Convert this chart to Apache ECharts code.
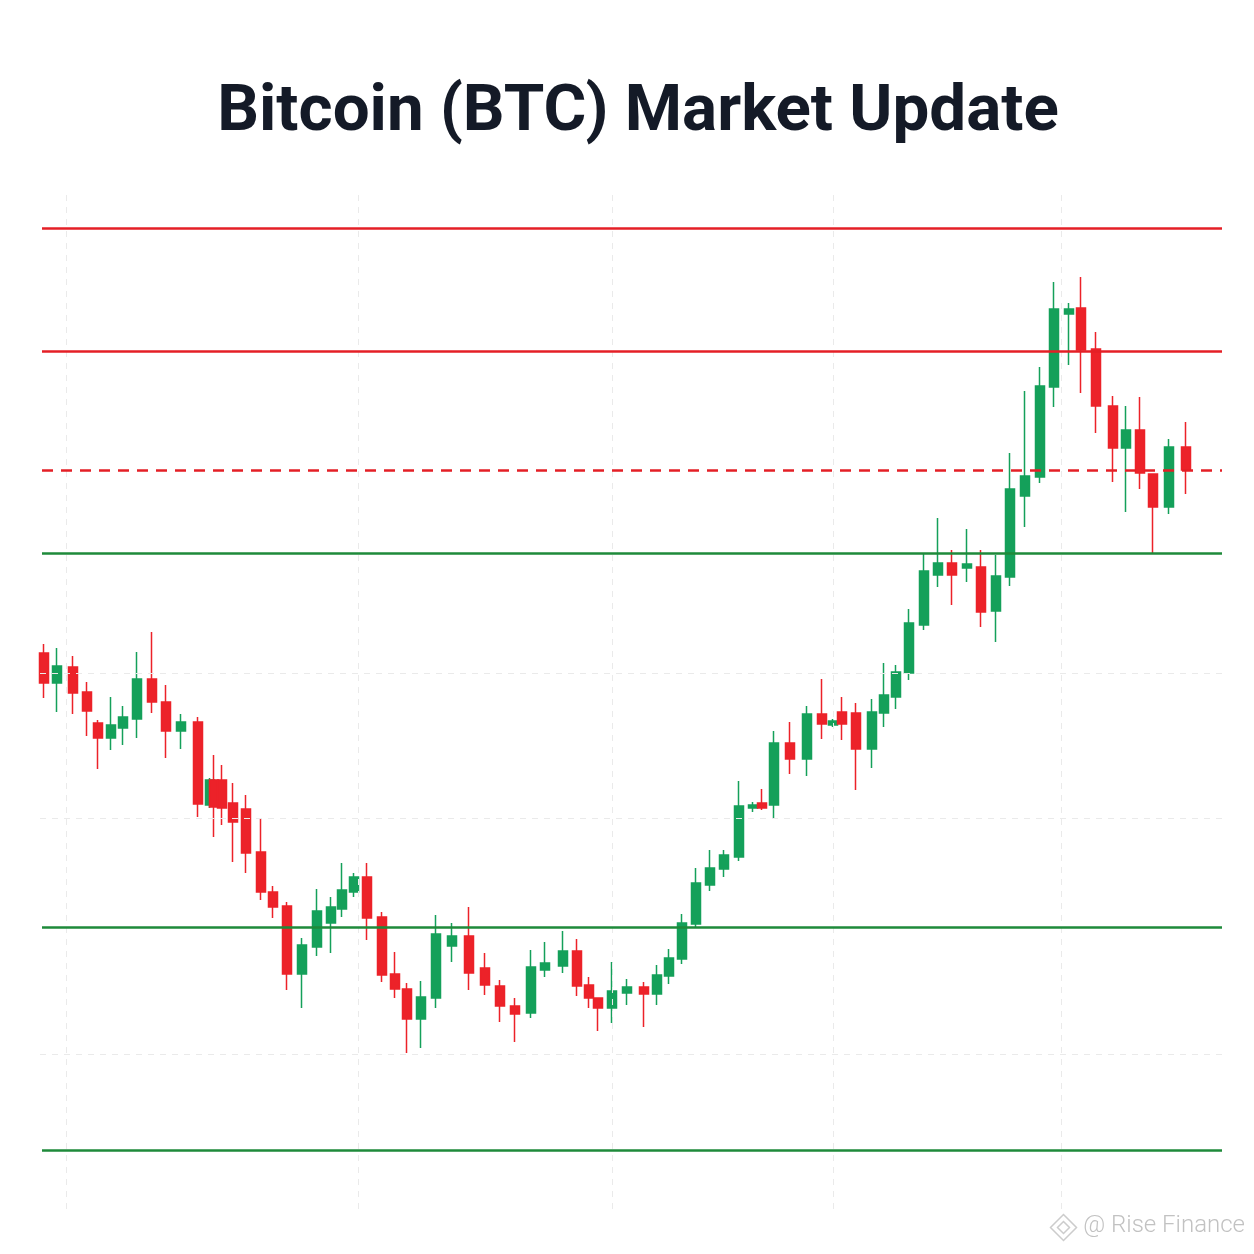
<!DOCTYPE html>
<html>
<head>
<meta charset="utf-8">
<script src="https://cdn.jsdelivr.net/npm/echarts@6/dist/echarts.min.js"></script>
<style>
html,body{margin:0;padding:0;background:#ffffff;}
#chart{width:1254px;height:1254px;}
</style>
</head>
<body>
<div id="chart"></div>
<script>
// Session positions (time axis units) for each candle
const sessionPos = [44,57,73,87,98,111,123,137,152,166,181,198,210,214,222,233,246,261,273,287,302,317,331,342,354,367,382,395,407,421,436,452,469,485,500,515,531,545,563,577,589,598,612,627,644,657,669,682,696,710,724,739,753,762,774,790,807,822,833,842,856,872,884,896,909,924,938,952,967,981,996,1010,1025,1040,1054,1069,1081,1096,1113,1126,1140,1153,1169,1186];
const openP = [60100,57100,58700,56200,53100,51600,52600,53500,57500,55200,52300,53200,44900,47400,47400,45100,44500,40200,36200,34800,28000,30700,33100,34500,36200,37700,33700,28000,26500,23500,25600,30800,31800,28600,26800,24800,24100,28400,28800,30300,26900,25600,24600,26100,26700,26000,27800,29500,33000,36900,38500,39700,44600,45100,44900,51100,49500,54000,52900,54200,54100,50500,54100,55700,58100,62900,67900,69100,68600,68700,64300,67700,75800,77700,86700,94000,94600,90500,84800,80600,82400,78000,74700,80700];
const closeP = [57100,58800,56100,54300,51600,52900,53700,57500,55200,52300,53200,45000,47400,44700,44600,43200,40100,36200,34700,28000,30900,34300,34700,36400,37700,33600,27900,26500,23500,25700,32000,31800,28100,26900,24800,24000,28700,29100,30300,26800,25600,24600,26300,26700,26000,27900,29600,33100,37100,38600,39900,44800,44900,44600,51100,49500,54000,53000,53300,53000,50500,54200,55900,58200,63100,68300,69100,67900,69000,64200,67800,76500,77800,86800,94500,94500,90400,84800,80600,82400,78100,74700,80700,78400];
const lowP = [55600,54200,54000,51800,48500,50400,50900,51600,54100,49600,50500,43700,44600,41700,42900,39200,38100,35400,33600,26400,24600,29800,30100,33700,35700,31400,27200,25600,20100,20600,24600,29200,26400,25900,23200,21200,23600,27700,28100,25800,24600,22300,23100,24900,22700,24900,27000,29000,32700,36300,37700,39300,44200,44400,43600,48000,47800,51500,52700,51400,46400,48600,52700,54500,57400,62400,66700,64900,67200,62700,61200,66800,72700,77100,84700,88900,86100,82100,77200,74200,76500,70100,74000,76000];
const highP = [61000,60600,59800,57200,53400,55700,54800,60200,62200,56900,54000,53700,47600,49900,48900,47100,45900,43600,36800,35200,31600,36500,35700,39100,38100,39100,34200,30200,27100,27300,33900,33100,34700,30100,27400,25600,30400,31200,32300,31500,27700,25600,29200,27500,27200,28900,30500,34000,38600,40400,40400,47300,45200,46500,52300,53200,54800,57500,53500,55700,55100,55500,59100,58900,64500,70000,73600,70400,72500,70400,69900,80100,86300,88700,97200,95100,97700,92200,85800,84800,85700,78000,81500,83200];

// Key levels
const resistanceLevels = [102600, 90300];
const pivotLevels = [78400];
const supportLevels = [70100, 32700, 10400];
// Faint reference grid
const gridPriceLevels = [58100, 43600, 20000];
const gridSessionMarks = [66, 358, 612, 833, 1061];

const candles = sessionPos.map((t, i) => [t, openP[i], closeP[i], lowP[i], highP[i]]);

const LINE_X0 = 42, LINE_X1 = 1222;
const GRID_X0 = 40, GRID_X1 = 1225;
const GRID_Y0 = 105900, GRID_Y1 = 3900;

function levelLine(v, color, type) {
  return [{coord: [LINE_X0, v], lineStyle: {color: color, width: 2.6, type: type}},
          {coord: [LINE_X1, v]}];
}
const levelLines = []
  .concat(resistanceLevels.map(v => levelLine(v, '#e41f26', 'solid')))
  .concat(pivotLevels.map(v => levelLine(v, '#e41f26', [11, 8])))
  .concat(supportLevels.map(v => levelLine(v, '#1e8a3a', 'solid')));

const gridLines = []
  .concat(gridPriceLevels.map(v => [{coord: [GRID_X0, v]}, {coord: [GRID_X1, v]}]))
  .concat(gridSessionMarks.map(t => [{coord: [t, GRID_Y0]}, {coord: [t, GRID_Y1]}]));

const chart = echarts.init(document.getElementById('chart'), null, {renderer: 'canvas'});
chart.setOption({
  animation: false,
  backgroundColor: '#ffffff',
  grid: {left: 0, right: 0, top: 0, bottom: 0},
  xAxis: {type: 'value', min: 0, max: 1254, show: false, splitLine: {show: false}},
  yAxis: {type: 'value', min: 0, max: 125400, show: false, splitLine: {show: false}},
  graphic: [
    {type: 'text', x: 638, y: 114,
     style: {text: 'Bitcoin (BTC) Market Update', align: 'center', verticalAlign: 'middle',
             fontFamily: 'Roboto', fontWeight: 'bold', fontSize: 65.5, fill: '#141a27'}},
    {type: 'text', right: 9, top: 1214,
     style: {text: '@ Rise Finance', fontFamily: 'Roboto', fontWeight: 300, fontSize: 24, fill: '#c2c2c2'}},
    {type: 'group', left: 1048, top: 1212, children: [
      {type: 'polygon', shape: {points: [[13,0],[26,13],[13,26],[0,13]]}, style: {fill: 'none', stroke: '#cccccc', lineWidth: 1.5}},
      {type: 'polygon', shape: {points: [[13,7],[19,13],[13,19],[7,13]]}, style: {fill: 'none', stroke: '#cccccc', lineWidth: 1.5}}
    ]}
  ],
  series: [
    {
      type: 'line', data: [], silent: true,
      markLine: {silent: true, symbol: 'none', label: {show: false},
        lineStyle: {color: '#eaeaea', width: 1, type: [6, 6]},
        data: gridLines}
    },
    {
      type: 'candlestick',
      data: candles,
      barWidth: 9,
      itemStyle: {color: '#14a05a', color0: '#ec2229', borderColor: '#14a05a', borderColor0: '#ec2229', borderWidth: 1.5},
      markLine: {silent: true, symbol: 'none', label: {show: false}, data: levelLines}
    }
  ]
});
</script>
</body>
</html>
